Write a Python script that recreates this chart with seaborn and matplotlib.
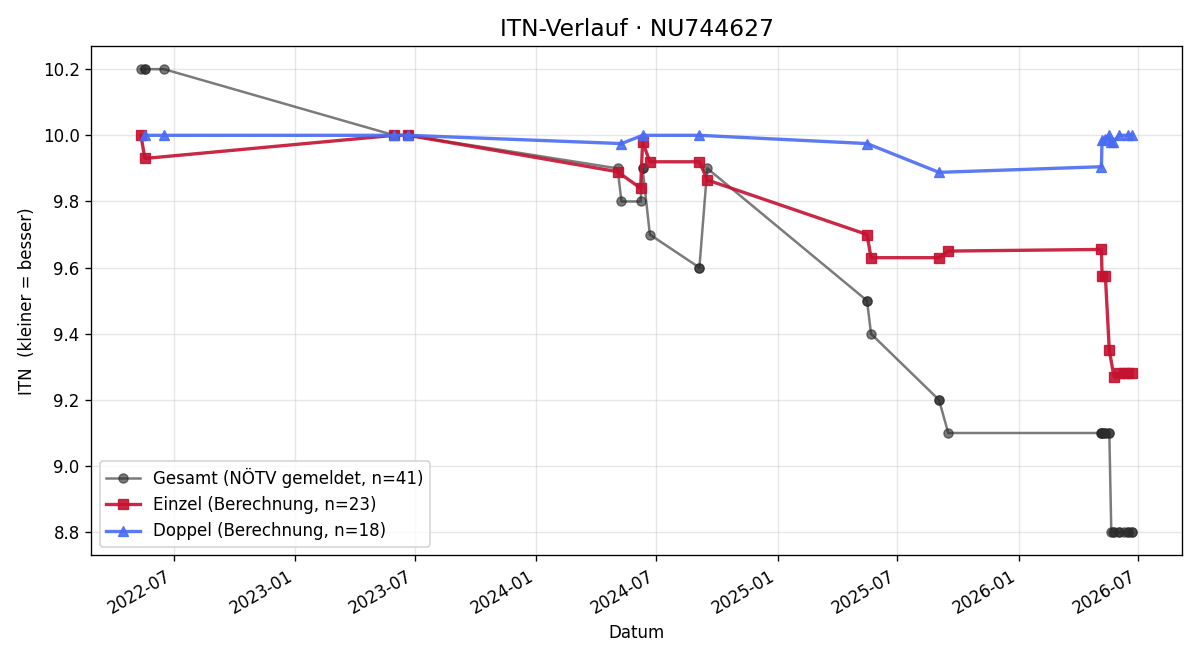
import pandas as pd
import seaborn as sns
import matplotlib.pyplot as plt
import matplotlib.dates as mdates

# ITN values per match
gesamt_dates = ['2022-05-12', '2022-05-18', '2022-05-18', '2022-06-16',
                '2023-05-31', '2023-05-31', '2023-06-21', '2023-06-21',
                '2024-05-03', '2024-05-09', '2024-06-07', '2024-06-10', '2024-06-10',
                '2024-06-21', '2024-09-04', '2024-09-04', '2024-09-16',
                '2025-05-16', '2025-05-16', '2025-05-22', '2025-09-02', '2025-09-02', '2025-09-16',
                '2026-05-06', '2026-05-06', '2026-05-07', '2026-05-07', '2026-05-12', '2026-05-12',
                '2026-05-17', '2026-05-18', '2026-05-21', '2026-05-24', '2026-05-25',
                '2026-06-02', '2026-06-02', '2026-06-09', '2026-06-15', '2026-06-16',
                '2026-06-22', '2026-06-22']
gesamt_itn = [10.2, 10.2, 10.2, 10.2,
              10.0, 10.0, 10.0, 10.0,
              9.9, 9.8, 9.8, 9.9, 9.9,
              9.7, 9.6, 9.6, 9.9,
              9.5, 9.5, 9.4, 9.2, 9.2, 9.1,
              9.1, 9.1, 9.1, 9.1, 9.1, 9.1,
              9.1, 9.1, 8.8, 8.8, 8.8,
              8.8, 8.8, 8.8, 8.8, 8.8,
              8.8, 8.8]

einzel_dates = ['2022-05-12', '2022-05-18', '2023-05-31', '2023-06-21',
                '2024-05-03', '2024-06-07', '2024-06-10', '2024-06-21', '2024-09-04', '2024-09-16',
                '2025-05-16', '2025-05-22', '2025-09-02', '2025-09-16',
                '2026-05-06', '2026-05-07', '2026-05-12', '2026-05-18', '2026-05-25',
                '2026-06-02', '2026-06-09', '2026-06-16', '2026-06-22']
einzel_itn = [10.0, 9.93, 10.0, 10.0,
              9.89, 9.84, 9.98, 9.92, 9.92, 9.865,
              9.70, 9.63, 9.63, 9.65,
              9.655, 9.575, 9.575, 9.35, 9.27,
              9.28, 9.28, 9.28, 9.28]

doppel_dates = ['2022-05-18', '2022-06-16', '2023-05-31', '2023-06-21',
                '2024-05-09', '2024-06-10', '2024-09-04',
                '2025-05-16', '2025-09-02',
                '2026-05-06', '2026-05-07', '2026-05-12', '2026-05-17', '2026-05-21',
                '2026-05-24', '2026-06-02', '2026-06-15', '2026-06-22']
doppel_itn = [10.0, 10.0, 10.0, 10.0,
              9.975, 10.0, 10.0,
              9.975, 9.888,
              9.905, 9.985, 9.99, 10.0, 9.98,
              9.98, 10.0, 10.0, 10.0]

fig, ax = plt.subplots(figsize=(10, 5.5), dpi=120)

gray, red, blue = '#2b2b2b', '#c41230', '#4a6cf2'
sns.lineplot(x=pd.to_datetime(gesamt_dates), y=gesamt_itn, ax=ax, estimator=None, sort=False,
             color=gray, alpha=0.62, linewidth=1.5, marker='o', markersize=5.5,
             markeredgecolor=gray, markeredgewidth=0.8,
             label=f'Gesamt (NÖTV gemeldet, n={len(gesamt_itn)})')
sns.lineplot(x=pd.to_datetime(einzel_dates), y=einzel_itn, ax=ax, estimator=None, sort=False,
             color=red, alpha=0.9, linewidth=2.0, marker='s', markersize=6.5,
             markeredgecolor=red, markeredgewidth=0.8,
             label=f'Einzel (Berechnung, n={len(einzel_itn)})')
sns.lineplot(x=pd.to_datetime(doppel_dates), y=doppel_itn, ax=ax, estimator=None, sort=False,
             color=blue, alpha=0.9, linewidth=2.0, marker='^', markersize=6.5,
             markeredgecolor=blue, markeredgewidth=0.8,
             label=f'Doppel (Berechnung, n={len(doppel_itn)})')

ax.xaxis.set_major_locator(mdates.MonthLocator(bymonth=[1, 7]))
ax.xaxis.set_major_formatter(mdates.DateFormatter('%Y-%m'))
ax.grid(True, alpha=0.3)
ax.set_title('ITN-Verlauf · NU744627', fontsize=14)
ax.set_xlabel('Datum')
ax.set_ylabel('ITN  (kleiner = besser)')
ax.legend(loc='lower left')
fig.autofmt_xdate()
fig.tight_layout()
fig.savefig('out.png')
